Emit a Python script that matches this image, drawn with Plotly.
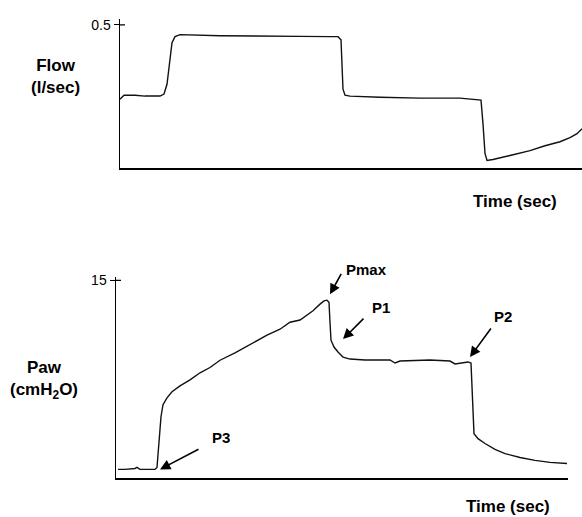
import plotly.graph_objects as go

# ---- Flow panel data (time in s, flow in l/sec) ----
flow_time = [0.00, 0.04, 0.15, 0.25, 0.40, 0.44, 0.47, 0.50, 0.52, 0.55, 0.60,
             1.00, 1.40, 1.80, 2.10, 2.18, 2.21, 2.22, 2.23, 2.25, 2.30, 2.60,
             3.00, 3.40, 3.58, 3.61, 3.63, 3.65, 3.67, 3.73, 3.90, 4.10, 4.25,
             4.40, 4.50, 4.57, 4.62]
flow_vals = [0.241, 0.255, 0.255, 0.252, 0.252, 0.259, 0.293, 0.379, 0.438, 0.459, 0.466,
             0.462, 0.462, 0.460, 0.459, 0.459, 0.448, 0.362, 0.276, 0.255, 0.252, 0.248,
             0.245, 0.245, 0.241, 0.238, 0.155, 0.052, 0.028, 0.031, 0.045, 0.062, 0.079,
             0.093, 0.107, 0.121, 0.138]

# ---- Paw panel data (time in s, pressure in cmH2O) ----
paw_time = [0.02, 0.09, 0.19, 0.21, 0.24, 0.34, 0.39, 0.41, 0.43, 0.45, 0.47, 0.51,
            0.56, 0.64, 0.74, 0.84, 0.94, 1.04, 1.19, 1.34, 1.51, 1.64, 1.74, 1.84,
            1.97, 2.04, 2.08, 2.11, 2.13, 2.14, 2.15, 2.18, 2.22, 2.27, 2.34, 2.49,
            2.74, 2.79, 2.84, 3.14, 3.34, 3.39, 3.52, 3.55, 3.56, 3.57, 3.58, 3.62,
            3.69, 3.79, 3.89, 4.04, 4.19, 4.34, 4.51]
paw_vals = [0.68, 0.68, 0.75, 0.83, 0.68, 0.68, 0.68, 0.83, 2.79, 4.67, 5.58, 6.10,
            6.56, 7.01, 7.46, 8.00, 8.40, 8.95, 9.50, 10.15, 10.85, 11.30, 11.83, 12.00,
            12.70, 13.20, 13.45, 13.50, 13.34, 11.83, 10.47, 9.95, 9.57, 9.19, 9.04, 8.97,
            8.97, 8.74, 8.89, 8.97, 8.89, 8.67, 8.82, 8.74, 7.31, 5.05, 3.39, 3.01,
            2.64, 2.19, 1.88, 1.58, 1.36, 1.21, 1.13]

flow_tick = [0.5]
paw_tick = [15]

# annotated points on the Paw trace: (label, time, value)
paw_labels = ["Pmax", "P1", "P2", "P3"]
paw_label_t = [2.14, 2.27, 3.54, 0.44]
paw_label_v = [13.94, 10.55, 9.19, 0.68]

FONT = "Liberation Sans, Arial, sans-serif"
W, H = 582, 517

fig = go.Figure()
fig.add_trace(go.Scatter(x=flow_time, y=flow_vals, mode="lines",
                         line=dict(color="#111111", width=1.4),
                         xaxis="x", yaxis="y", showlegend=False, hoverinfo="skip"))
fig.add_trace(go.Scatter(x=paw_time, y=paw_vals, mode="lines",
                         line=dict(color="#111111", width=1.4),
                         xaxis="x2", yaxis="y2", showlegend=False, hoverinfo="skip"))

def px_x(p):
    return p / W

def px_y(p):
    return 1 - p / H

axis_common = dict(showgrid=False, zeroline=False, showline=True,
                   linecolor="black", linewidth=1.5)

fig.update_layout(
    width=W, height=H, autosize=False,
    margin=dict(l=0, r=0, t=0, b=0),
    paper_bgcolor="white", plot_bgcolor="white",
    font=dict(family=FONT, color="black"),
    xaxis=dict(domain=[px_x(120), 1.0], range=[0, 4.62], showticklabels=False,
               ticks="", anchor="y", **axis_common),
    yaxis=dict(domain=[px_y(165), px_y(14)], range=[0, 0.521], tickvals=flow_tick,
               ticktext=["0.5"], ticks="outside", ticklen=5, tickwidth=1.2,
               tickcolor="black", tickfont=dict(size=14, family=FONT),
               anchor="x", **axis_common),
    xaxis2=dict(domain=[px_x(116), px_x(568)], range=[0, 4.52], showticklabels=False,
                ticks="", anchor="y2", **axis_common),
    yaxis2=dict(domain=[px_y(478), px_y(275)], range=[0, 15.23], tickvals=paw_tick,
                ticktext=["15"], ticks="outside", ticklen=5, tickwidth=1.2,
                tickcolor="black", tickfont=dict(size=14, family=FONT),
                anchor="x2", **axis_common),
)

# inner half of the cross-shaped ticks
fig.add_shape(type="line", xref="x domain", yref="y", x0=0, x1=5 / 462,
              y0=flow_tick[0], y1=flow_tick[0], line=dict(color="black", width=1.2))
fig.add_shape(type="line", xref="x2 domain", yref="y2", x0=0, x1=5 / 452,
              y0=paw_tick[0], y1=paw_tick[0], line=dict(color="black", width=1.2))

def label(text, x, y, size):
    fig.add_annotation(text=text, xref="paper", yref="paper", x=px_x(x), y=px_y(y),
                       xanchor="center", yanchor="middle", showarrow=False,
                       align="center", font=dict(family=FONT, size=size, color="black"))

# axis titles
label("<b>Flow<br>(l/sec)</b>", 55, 72, 17)
label("<b>Paw<br>(cmH<sub>2</sub>O)</b>", 44, 379, 17)
label("<b>Time (sec)</b>", 515, 198, 17)
label("<b>Time (sec)</b>", 508, 506, 17)

# arrows and point labels
arrow_off = [(12, -22), (22, -22), (22, -30), (40, -21)]
label_pos = [(366, 267), (381, 305), (503, 315), (221, 437)]
for name, t, v, (ax, ay), (lx, ly) in zip(paw_labels, paw_label_t, paw_label_v,
                                          arrow_off, label_pos):
    fig.add_annotation(x=t, y=v, xref="x2", yref="y2", text="", showarrow=True,
                       ax=ax, ay=ay, arrowhead=2, arrowsize=1.3, arrowwidth=1.6,
                       arrowcolor="black")
    label(f"<b>{name}</b>", lx, ly, 15)

fig.write_html("out.html",
               config={"displayModeBar": False, "staticPlot": True},
               post_script="document.body.style.margin='0';"
                           "document.body.style.overflow='hidden';")
